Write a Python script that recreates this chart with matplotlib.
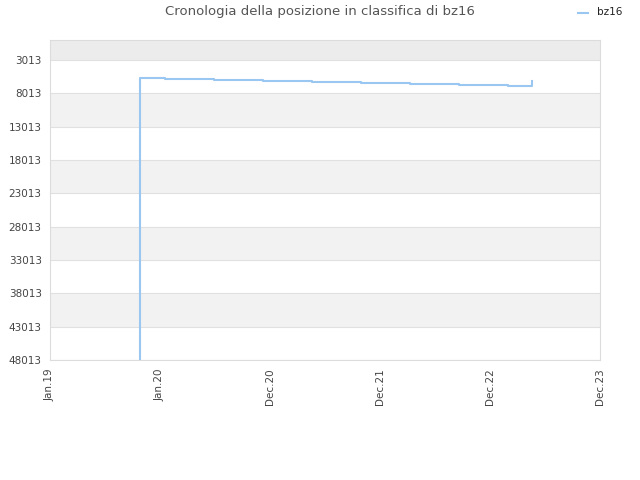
import matplotlib

matplotlib.use("Agg")
import matplotlib.dates as mdates
import matplotlib.pyplot as plt
import numpy as np

TITLE = "Cronologia della posizione in classifica di bz16"
SERIES = "bz16"

# rank history (step chart, value holds until the next date)
dates = [
    "2019-10-21", "2019-10-21", "2020-01-11", "2020-06-19", "2020-11-26",
    "2021-05-05", "2021-10-12", "2022-03-21", "2022-08-28", "2023-02-04",
    "2023-04-23", "2023-04-23",
]
ranks = [
    48500, 5634, 5846, 5998, 6149,
    6300, 6452, 6603, 6755, 6906,
    6906, 6149,
]

yticks = [3013, 8013, 13013, 18013, 23013, 28013, 33013, 38013, 43013, 48013]
xlabels = ["Jan.19", "Jan.20", "Dec.20", "Dec.21", "Dec.22", "Dec.23"]
x_start, x_end = "2019-01-01", "2023-12-01"

LINE = "#99c7f2"
GRID = "#e0e0e0"
BAND = "#f2f2f2"
TOPBAND = "#ececec"
TEXT = "#444444"

fig = plt.figure(figsize=(6.4, 4.8), dpi=100)
ax = fig.add_axes([50 / 640, 1 - 360 / 480, 550 / 640, 320 / 480])

x = mdates.datestr2num(dates)
x0, x1 = mdates.datestr2num(x_start), mdates.datestr2num(x_end)

y_top = 0
ax.set_xlim(x0, x1)
ax.set_ylim(yticks[-1], y_top)

# alternating background bands
ax.axhspan(y_top, yticks[0], color=TOPBAND, zorder=0, lw=0)
for i in range(len(yticks) - 1):
    if i % 2 == 1:
        ax.axhspan(yticks[i], yticks[i + 1], color=BAND, zorder=0, lw=0)
for t in yticks:
    ax.axhline(t, color=GRID, lw=0.8, zorder=1)

ax.step(x, ranks, where="post", color=LINE, lw=1.5, zorder=3)

ax.set_yticks(yticks)
ax.set_yticklabels([str(t) for t in yticks])
ax.set_xticks(np.linspace(x0, x1, len(xlabels)))
ax.set_xticklabels(xlabels, rotation=90)
ax.tick_params(axis="both", length=0, labelsize=7.5, colors=TEXT, pad=6)

for s in ax.spines.values():
    s.set_color("#dcdcdc")
    s.set_linewidth(0.8)

fig.text(0.5, 1 - 12 / 480, TITLE, ha="center", va="center",
         fontsize=9.5, color="#555555")
fig.lines.append(plt.Line2D([578 / 640, 588 / 640], [1 - 13 / 480] * 2,
                            color=LINE, lw=1.5, transform=fig.transFigure))
fig.text(597 / 640, 1 - 12 / 480, SERIES, ha="left", va="center",
         fontsize=7.5, color="#222222")

fig.savefig("out.png", dpi=100)
